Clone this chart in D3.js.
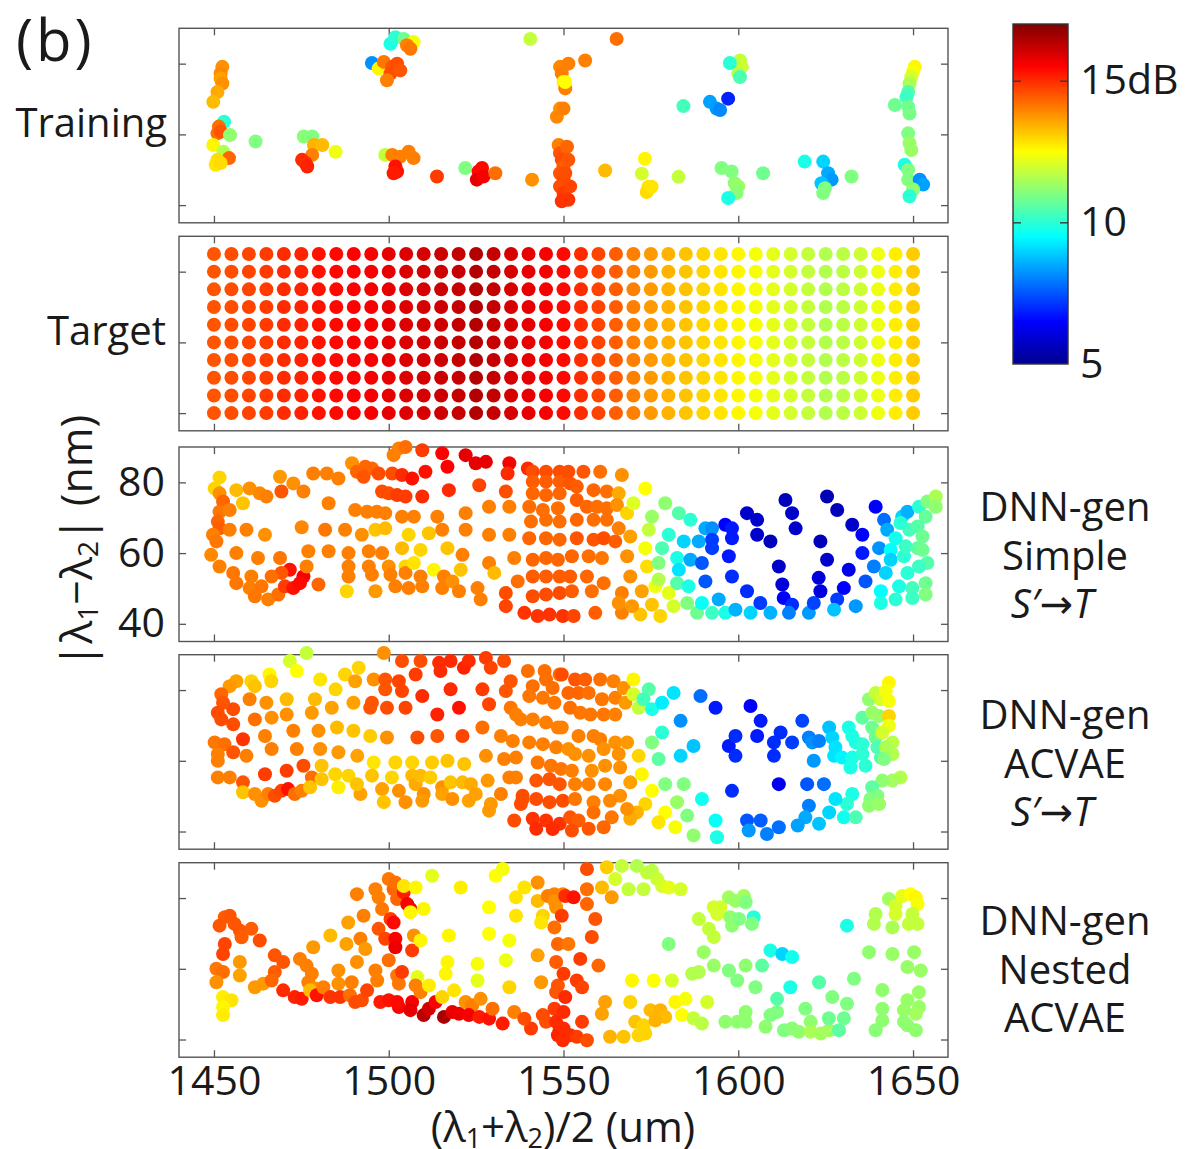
<!DOCTYPE html>
<html>
<head>
<meta charset="utf-8">
<script src="https://cdn.jsdelivr.net/npm/d3@7"></script>
<style>
  body { margin: 0; background: #fff; }
  svg text { fill: #1a1a1a; }
</style>
</head>
<body>
<div id="chart"></div>
<script>
// axis ticks
const xTicks = [1450, 1500, 1550, 1600, 1650];
const yTicks = [40, 60, 80];
const cbTicks = [5, 10, 15];
const cbTickText = ["5", "10", "15dB"];

// target grid: columns, rows and the value of each column
const targetCols = [1450, 1455, 1460, 1465, 1470, 1475, 1480, 1485, 1490, 1495, 1500, 1505, 1510, 1515, 1520, 1525, 1530, 1535, 1540, 1545, 1550,
    1555, 1560, 1565, 1570, 1575, 1580, 1585, 1590, 1595, 1600, 1605, 1610, 1615, 1620, 1625, 1630, 1635, 1640, 1645, 1650];
const targetRows = [40, 45, 50, 55, 60, 65, 70, 75, 80, 85];
const targetColVals = [14.5, 14.6, 14.7, 14.8, 15.0, 15.1, 15.3, 15.4, 15.5, 15.6, 15.8, 15.9, 16.0, 16.1, 16.2, 16.4, 16.2, 16.0, 15.8, 15.6, 15.4,
    15.0, 14.7, 14.4, 14.0, 13.7, 13.4, 13.2, 13.0, 12.8, 12.6, 12.4, 12.2, 12.0, 11.8, 11.6, 11.7, 11.9, 12.3, 12.7, 13.1];

// [ (l1+l2)/2 , |l1-l2| , dB ]
const trainingPts = [
    [1452.4,79.1,13.8],[1451.9,77.2,13.9],[1451.9,75.8,13.6],[1452.4,74.4,13.8],[1451,72,13.5],[1449.8,69.2,13.3],
    [1452.9,63.6,10.0],[1451.4,62.2,14.2],[1451,60.3,14.2],[1451.9,60.8,14.5],[1454.6,59.8,11.2],[1449.8,57,12.6],
    [1452.7,55.1,11.6],[1454.3,53.3,14.3],[1451,52.8,12.9],[1450.5,51.4,12.8],[1451.9,51.9,12.9],
    [1461.9,58,11.0],[1475.7,59.4,11.1],[1478.1,59.4,11.0],[1478.6,57,13.4],[1481,57,13.3],[1484.8,55.1,12.3],
    [1478.1,54.2,14.0],[1475.2,52.8,15.0],[1476.2,51.9,15.0],[1476.7,50.9,15.1],
    [1499,54.2,11.8],[1501,54.2,14.0],[1503.3,53.7,14.0],[1505.7,55.1,14.0],[1507.1,53.3,14.0],
    [1501.9,50.9,15.3],[1502.4,49.5,15.3],[1501.4,49,15.2],[1513.8,48.1,14.8],[1521.9,50.5,11.0],
    [1525.7,49.5,15.4],[1526.7,50.5,15.4],[1525.2,47.2,15.8],[1527.1,48.1,15.6],[1530.5,49,14.2],
    [1500.5,85.6,9.8],[1501.9,87.5,10.0],[1504.3,87,10.8],[1507.1,86.1,12.4],[1505.2,85.2,14.0],[1506.2,84.2,14.1],
    [1495.2,80.2,8.2],[1497.1,78.6,12.6],[1498.6,80.5,14.1],[1501,79.1,14.5],[1500.5,77.2,14.6],[1502.4,80,14.6],
    [1503.3,78.1,14.5],[1499.5,75.3,14.0],[1540.5,87,11.8],[1541,47.2,13.8],
    [1549,79.1,13.9],[1549.5,77.2,14.0],[1550,74.8,12.6],[1550.5,73,14.0],[1549,67.3,13.8],[1548.1,65,13.9],
    [1551.4,80,14.0],[1550.5,74.8,12.5],[1550,67.3,14.0],
    [1548.6,57,14.0],[1549,54.7,14.5],[1549.5,52.8,14.6],[1550,50.9,14.4],[1549,49,14.5],[1550,47.2,14.7],
    [1549,45.3,14.6],[1550,43.4,14.8],[1549.5,41.1,14.9],[1551,56.5,14.3],[1551.4,52.8,14.5],[1550.5,49,14.6],
    [1551.9,45.3,14.7],[1551.4,41.5,14.9],
    [1565.2,87,14.2],[1556.2,80.9,14.0],[1561.9,49.8,13.3],[1573.3,53.1,12.6],[1572.4,48.9,12.0],[1574.3,45.2,12.8],
    [1573.8,43.7,12.9],[1575.2,45.2,12.8],[1582.9,48,11.8],
    [1600.5,80.9,11.8],[1601,79.1,11.9],[1600,77.2,11.6],[1597.6,80.2,10.0],[1600.5,76.2,10.4],
    [1584.3,68,10.3],[1591.9,69.2,8.4],[1593.8,67.3,8.3],[1594.8,66.9,8.1],[1597.1,70.1,6.9],
    [1595.2,50.5,11.0],[1598.1,49.5,11.0],[1599,46.2,11.2],[1600,45.3,11.3],[1599.5,43.4,11.1],[1597.1,42,9.8],
    [1607.1,49,10.8],[1619,52.3,9.8],[1624.3,52.3,9.0],[1625.7,49,8.5],[1626.7,47.2,8.3],[1623.8,46.2,8.8],
    [1624.8,44.8,11.0],[1624.3,43.4,11.0],[1632.4,48.1,11.0],
    [1650.5,79.1,12.6],[1650,77.7,12.4],[1649.5,76.2,12.0],[1649,74.4,11.5],[1648.6,72,10.5],[1648.1,70.6,10.2],
    [1644.8,68.3,10.8],[1648.6,67.8,10.8],[1649,65.9,10.9],[1648.6,60.3,11.0],[1649,57.5,11.3],[1649.5,55.6,11.3],
    [1647.6,51.4,9.8],[1648.6,50,11.0],[1648.6,47.2,11.0],[1651.9,47.2,8.2],[1652.9,45.8,8.4],[1650,44.4,11.2],
    [1649,42.5,10.0]
];

const simplePts = [
    [1451.6,81.4,13.0],[1450.2,78.3,13.0],[1451.6,76.9,13.8],[1452.6,74.6,14.3],[1451.6,71.7,14.1],[1451.1,68.9,14.3],
    [1451.6,67,14.4],[1449.7,65.2,14.0],[1450.7,63.3,14.1],[1449.2,59.5,13.9],[1451.6,56.2,14.0],[1455.5,54.4,14.1],
    [1456.4,51.5,14.1],[1460.2,50.1,14.0],[1461.7,47.8,14.1],[1465.5,46.9,14.0],[1468.4,48.3,14.2],[1470.3,50.6,14.8],
    [1471.7,55.3,15.3],[1472.7,50.1,15.3],[1475.6,53.4,15.6],[1474.6,51.5,15.4],[1469.3,54.4,14.5],[1466.5,53.4,14.2],
    [1463.6,50.6,14.1],[1460.7,53.4,14.0],[1456.4,77.8,13.3],[1460.2,78.3,13.8],[1463.1,76.9,13.9],[1465,76,14.0],
    [1458.3,74.1,13.2],[1454.5,72.2,14.0],[1468.9,81.6,13.7],[1472.7,79.7,13.8],[1469.3,77.4,14.5],[1475.6,77.4,14.0],
    [1454.5,66.6,14.0],[1459.3,66.6,14.0],[1464.6,65.2,13.8],[1456.4,60,14.0],[1462.6,58.6,14.0],[1468.9,58.6,14.1],
    [1475.1,67.3,13.9],[1477,60.5,14.0],[1476.5,56.2,14.0],[1479.9,51.1,14.3],[1478.4,82.5,14.0],[1482.3,82.5,14.0],
    [1485.6,81.1,14.0],[1482.8,74.1,14.0],[1481.8,66.6,14.1],[1482.8,60.5,14.0],[1487.5,66.6,14.0],[1488.5,60,14.0],
    [1488.5,56.2,14.0],[1488.5,53.4,14.0],[1488,49.2,13.0],[1490.4,72.2,14.0],[1489.5,85.4,13.8],[1490.9,83,14.3],
    [1493.3,84.4,14.3],[1495.2,83.9,14.3],[1492.8,81.6,14.5],[1493.8,71.7,14.0],[1492.3,65.2,13.8],[1494.3,60.5,14.0],
    [1494.3,56.2,14.0],[1495.2,53.9,14.0],[1496.2,49.2,13.7],[1496.2,66.6,13.2],[1496.6,71.7,14.0],[1498.1,77.4,14.6],
    [1500,76.9,14.6],[1499,67,13.3],[1499,71.3,14.0],[1498.1,60,14.0],[1500,56.2,13.8],[1500.5,53.9,14.0],
    [1501.9,50.6,14.0],[1501,82.5,14.6],[1497.1,82.5,14.6],[1501.4,87.7,14.0],[1502.9,89.6,14.0],[1504.8,90,14.2],
    [1503.8,82.1,15.0],[1502.4,76.4,14.8],[1504.8,76,14.8],[1503.8,70.3,14.0],[1503.8,61.4,13.3],[1504.8,56.2,13.0],
    [1504.8,54.4,14.0],[1505.7,50.1,14.0],[1507.2,70.3,14.0],[1505.7,65.2,13.0],[1507.2,57.2,12.8],[1509.1,60.9,13.0],
    [1506.7,81.1,15.3],[1509.6,89.1,14.8],[1509.6,76,15.0],[1509.1,53.4,14.0],[1509.6,50.6,14.0],[1510.5,83,15.3],
    [1512.9,55.3,12.6],[1511.5,65.6,13.2],[1515.3,88.2,15.5],[1516.8,84.4,15.5],[1517.2,77.8,15.0],[1513.9,70.3,14.0],
    [1515.3,66.6,14.0],[1516.8,61.4,13.2],[1515.8,53.4,14.0],[1515.3,50.1,14.0],[1518.2,52,13.8],[1522,87.7,15.8],
    [1524.9,85.4,15.8],[1527.8,85.8,15.8],[1525.9,79.2,14.7],[1522,71.3,14.0],[1522,66.6,14.0],[1521.1,59.5,14.0],
    [1520.6,55.3,13.2],[1520.1,49.2,14.0],[1525.4,50.1,14.0],[1526.3,46.9,14.0],[1534.5,85.4,15.6],[1534,82.5,15.0],
    [1539.8,83.9,15.0],[1533.5,77.4,14.6],[1528.7,73.1,14.0],[1534.5,73.1,14.0],[1528.7,65.2,14.0],[1534.5,65.2,14.0],
    [1528.7,57.2,14.0],[1530.2,54.4,13.3],[1535.9,58.6,14.0],[1536.9,52,14.2],[1533.5,48.7,14.6],[1533.5,45,14.7],
    [1541.2,83,14.6],[1545,83,14.6],[1548.9,83,14.6],[1541.2,80.2,14.4],[1545,80.2,14.4],[1548.9,80.2,14.4],
    [1541.2,76.9,14.3],[1545,76.4,14.3],[1548.9,76.9,14.3],[1540.2,73.1,14.2],[1544.1,72.2,14.2],[1548.4,72.7,14.2],
    [1540.7,68.9,14.2],[1545,69.4,14.2],[1548.9,68.9,14.2],[1540.2,64.2,14.3],[1545,64.2,14.3],[1548.9,63.8,14.3],
    [1541.2,58.1,14.3],[1545,58.6,14.3],[1548.4,58.1,14.3],[1541.2,53.4,14.4],[1545,53.4,14.4],[1548.9,53.4,14.4],
    [1541.2,47.8,14.6],[1545,48.3,14.6],[1548.9,48.7,14.6],[1538.8,43.1,14.9],[1542.6,42.2,14.9],[1546,42.6,14.9],
    [1549.8,42.2,14.9],
    [1551.4,83,14.6],[1555.7,83,14.5],[1560.5,83,14.2],[1566.7,82.1,13.8],[1551.9,79.7,14.5],[1553.8,78.8,14.4],
    [1558.6,77.8,14.3],[1562.4,77.4,14.2],[1565.8,76.9,13.5],[1553.8,75,14.4],[1556.7,73.1,14.3],[1559.6,73.1,14.2],
    [1562.4,72.7,14.2],[1565.3,73.6,13.8],[1568.2,71.3,13.0],[1553.8,69.4,14.3],[1558.6,69.4,14.2],[1562.4,69.4,14.2],
    [1565.8,67,14.0],[1553.8,64.2,14.5],[1558.6,63.8,14.5],[1561.5,64.2,14.6],[1564.8,63.3,14.4],[1569.1,64.7,13.6],
    [1552.4,59.1,14.3],[1557.2,59.1,14.2],[1561,58.6,14.1],[1568.2,59.1,13.8],[1551.9,53.4,14.4],[1556.7,53.4,14.3],
    [1561.5,51.5,14.2],[1569.1,53.4,13.8],[1552.4,49.2,14.4],[1558.1,49.2,14.2],[1566.7,48.7,14.0],[1552.9,42.2,14.7],
    [1559.1,43.1,14.4],[1566.7,43.1,14.0],[1565.8,45.9,13.8],
    [1573.4,78.3,12.5],[1570,74.1,12.1],[1575.3,70.3,11.3],[1574.4,66.6,11.8],[1573.4,61.4,12.4],[1573.9,56.2,12.9],
    [1572.4,49.2,13.6],[1572,42.6,13.2],[1575.3,45.4,13.2],[1569.6,45,13.7],[1576.3,50.6,12.3],[1577.7,42.2,13.0],
    [1579.1,74.1,11.2],[1580.1,65.2,10.0],[1578.2,61.4,10.4],[1577.2,57.2,11.0],[1577.2,52.5,11.6],[1580.1,48.7,12.2],
    [1581.5,45,12.0],[1583,71.3,10.5],[1586.3,69.4,10.0],[1582.5,58.6,9.8],[1584.4,63.3,9.0],[1583,55.3,9.2],
    [1582.5,51.5,10.5],[1585.8,50.6,9.8],[1585.4,45.9,11.0],[1588.2,43.1,10.8],[1588.7,63.3,8.5],[1586.3,58.1,8.5],
    [1589.6,57.2,7.5],[1590.6,67,8.5],[1592.5,67,8.2],[1592.5,63.8,7.2],[1592.5,61.4,7.2],[1590.6,52,7.5],
    [1589.6,45.9,9.6],[1592.5,43.1,10.2],[1596.3,68,6.5],[1598.2,67,6.8],[1598.2,64.2,6.8],[1597.3,59.1,6.8],
    [1598.2,53.4,7.0],[1594.4,46.9,8.5],[1596.3,43.1,9.8],[1599.2,44,8.6],[1602.5,71.3,5.8],[1605.4,69.4,5.8],
    [1605.4,65.2,5.8],[1609.2,63.3,5.6],[1602.5,49.2,7.0],[1606.3,45.9,7.2],[1603.5,43.1,9.0],[1609.2,43.1,8.6],
    [1613.5,75,5.6],[1615.4,71.3,5.8],[1616.4,67,5.8],[1611.6,56.2,5.8],[1612.6,51.1,6.0],[1613,47.3,6.5],
    [1615.4,45.4,7.0],[1614.5,43.1,8.0],[1620.2,43.1,8.3],[1621.6,45.9,7.3],[1623.5,49.2,6.0],[1623,53,6.0],
    [1625.4,58.1,5.8],[1623.5,63.3,5.6],[1625.4,76,5.5],[1628.3,72.2,5.6],[1632.6,68,5.8],[1635.5,65.2,6.5],
    [1635.5,60,6.8],[1631.6,55.3,6.2],[1630.2,50.1,6.5],[1628.3,46.9,7.2],[1627.4,44,8.8],[1633.6,45,8.3],
    [1636.4,52,7.5],[1638.8,56.2,8.0],[1640.3,61.4,8.2],[1639.3,73.1,6.5],[1641.7,69.4,7.8],[1642.6,66.6,8.5],
    [1643.6,60.9,9.5],[1643.6,58.1,9.0],[1642.2,54.4,9.0],[1640.8,49.2,9.5],[1640.8,45.9,9.8],[1645,64.2,9.7],
    [1645,46.9,10.0],[1646,50.6,9.8],[1648.4,54.4,10.0],[1647.4,59.1,10.0],[1647.9,61.9,10.2],[1648.9,66.6,10.3],
    [1646.9,70.3,9.0],[1648.4,71.7,8.6],[1651.7,73.1,10.0],[1654.1,74.6,11.0],[1656.5,76,11.5],[1656.5,73.1,11.2],
    [1653.6,70.3,10.7],[1651.3,67.5,10.5],[1652.7,64.7,10.8],[1651.3,61.4,10.6],[1652.7,60.9,10.8],[1654.1,57.2,10.5],
    [1651.7,56.2,10.2],[1653.6,51.5,10.8],[1653.6,48.3,11.0],[1649.8,50.1,10.3],[1649.8,47.3,10.2],[1646.4,68.5,10.0]
];

const acvaePts = [
    [1471.7,88.2,12.0],[1476.5,90.5,11.8],[1473.7,85.4,12.5],[1465.9,84.4,12.6],[1466.4,82.5,13.0],[1460.7,82.5,13.0],
    [1461.7,81.1,13.2],[1456.4,82.5,13.6],[1454.5,81.1,13.7],[1452.1,78.8,14.3],[1452.6,76.4,14.5],[1451.1,73.6,14.6],
    [1452.1,71.7,14.6],[1455.5,74.6,14.6],[1455.5,70.3,14.6],[1450.2,65.2,14.1],[1453,64.7,14.2],[1451.1,61.9,14.0],
    [1451.1,60,14.0],[1455.5,62.4,14.5],[1458.3,66.1,14.9],[1451.1,55.3,14.0],[1454.5,55.3,14.0],[1458.3,53.9,14.5],
    [1458.3,51.1,13.2],[1461.7,50.6,13.8],[1463.6,48.7,13.8],[1465.5,50.6,14.0],[1467.4,50.1,14.6],[1469.3,51.5,14.7],
    [1471.2,52,15.3],[1473.1,50.6,14.2],[1475.1,51.5,14.0],[1464.6,56.2,14.8],[1470.8,57.2,14.8],[1475.6,58.6,14.6],
    [1478,55.3,14.2],[1477.5,52.5,13.2],[1480.8,54.8,13.2],[1460.2,77.4,14.0],[1465,76.4,13.8],[1470.8,77.4,13.3],
    [1461.7,71.7,14.2],[1466.5,72.2,13.8],[1470.8,73.1,13.8],[1464.6,67,14.0],[1472.7,68.5,14.0],[1466.5,63.3,14.0],
    [1473.7,63.3,14.0],[1459.3,61.4,14.0],[1478.9,77.4,13.3],[1478,73.6,13.7],[1480.4,83,12.8],[1484.8,80.2,13.0],
    [1483.7,75,13.6],[1479.9,68.5,13.8],[1480.4,63.3,13.8],[1480.8,58.6,13.2],[1485.2,69.4,13.3],[1485.6,62.4,13.7],
    [1484.7,56.2,13.0],[1488.5,55.8,13.0],[1485.6,52.5,12.7],[1487.5,84.4,13.0],[1491.4,86.3,13.0],[1490.4,82.5,13.6],
    [1489.9,76.4,13.6],[1489.9,68.5,13.2],[1491,61.4,13.6],[1491.9,50.6,13.6],[1490.9,53.4,13.2],[1495.7,83,13.8],
    [1495.2,76.4,14.5],[1494.7,75,14.5],[1494.7,67,13.1],[1495.7,59.5,12.8],[1495.2,55.8,13.2],[1498.1,52,13.6],
    [1498.6,48.3,13.2],[1498.6,90.5,13.8],[1499,83,14.5],[1499,80.2,14.5],[1499.5,75,14.6],[1499.5,66.6,13.8],
    [1500.9,55.3,13.0],[1501.9,59.5,13.0],[1502.9,82.5,14.7],[1503.8,79.7,14.7],[1504.8,75,14.7],[1503.8,88.2,14.6],
    [1502.9,51.5,13.8],[1504.8,48.3,13.8],[1506.7,59.5,13.0],[1506.7,55.8,13.3],[1507.7,53.4,13.5],[1509.1,55.8,13.3],
    [1507.7,84.4,14.8],[1509.1,88.2,14.6],[1509.6,78.3,15.0],[1508.2,66.6,14.6],[1510,50.6,13.8],[1509.6,48.7,13.7],
    [1513.9,73.1,15.1],[1512.4,59.5,13.1],[1511.9,55.3,13.1],[1514.4,87.7,15.0],[1514.8,85.4,15.0],[1513.9,67,14.5],
    [1515.3,52.5,13.8],[1515.3,50.6,13.6],[1517.7,88.2,15.0],[1517.7,80.2,15.0],[1516.8,60,13.2],[1517.7,53.9,13.2],
    [1518.2,49.2,13.8],[1521.5,86.3,15.1],[1522.9,88.2,15.0],[1520.1,75,15.3],[1521.1,67,14.7],[1521.6,59.1,13.2],
    [1521.1,53.9,13.3],[1523.5,53.4,13.5],[1524.9,50.6,13.6],[1522.9,48.7,13.6],[1527.8,89.1,14.8],[1529.2,86.3,14.7],
    [1526.8,80.2,14.8],[1528.7,76,14.7],[1526.8,69.4,14.2],[1527.8,61.4,13.8],[1528.3,54.4,13.7],[1529.2,47.8,13.7],
    [1528.7,45.9,13.7],[1533,88.2,14.6],[1534.9,82.5,14.5],[1533.5,79.7,14.5],[1532.1,67,14.0],[1533,60.5,14.0],
    [1532.1,50.6,14.0],[1534.9,75,14.1],[1536.4,73.1,14.0],[1537.8,71.7,14.0],[1535.5,65.6,14.0],[1536.4,60.9,14.0],
    [1534.5,55.3,14.0],[1536.4,55.3,14.0],[1538.3,50.1,14.6],[1537.8,47.8,14.6],[1535.9,43.1,14.6],
    [1539.8,85.4,14.2],[1544.6,85.4,14.2],[1548.9,84.4,14.2],[1541.2,81.1,14.2],[1545,83,14.2],[1546.9,80.6,14.2],
    [1540.2,78.3,14.1],[1544.1,77.8,14.1],[1547.4,76.4,14.1],[1541.2,71.7,14.0],[1545,70.8,14.0],[1548.4,69.4,14.0],
    [1540.2,65.2,14.0],[1544.1,64.7,14.0],[1547.9,63.8,14.0],[1542.6,59.5,14.1],[1546.4,58.6,14.1],[1549.3,57.7,14.1],
    [1542.2,54.4,14.5],[1546,54.8,14.5],[1548.9,53.4,14.5],[1538.3,49.2,14.6],[1542.2,49.2,14.6],[1546,48.3,14.6],
    [1549.8,48.7,14.6],[1541.2,43.6,14.9],[1545,43.1,14.9],[1548.9,42.2,14.9],[1542.2,40.8,15.0],[1546.9,40.7,15.0],
    [1549.5,84.4,14.6],[1553.3,83,14.5],[1556.2,83,14.4],[1560.5,83,14.2],[1564.3,82.5,14.0],[1551.4,79.2,14.3],
    [1554.3,79.2,14.3],[1557.2,79.2,14.2],[1561,77.4,14.1],[1564.8,77.8,14.0],[1567.2,80.6,13.8],[1570,83,12.6],
    [1551.9,75,14.2],[1554.8,73.6,14.1],[1557.7,73.1,14.1],[1561.5,73.1,14.1],[1564.8,73.1,14.0],[1567.7,76.4,13.7],
    [1570,78.8,12.0],[1571.5,75,11.8],[1574.4,80.2,10.5],[1572.9,77.4,10.3],[1575.3,74.6,9.8],[1578.2,76.4,9.3],
    [1581.5,79.2,9.2],[1549.5,69.4,14.0],[1554.3,67,14.0],[1558.6,67,14.0],[1560.5,66.1,14.0],[1564.8,65.2,13.8],
    [1568.2,65.2,13.7],[1551.4,63.3,13.8],[1553.3,61.9,13.8],[1557.2,61.4,13.8],[1561.5,63.3,13.8],[1565.8,61.9,13.8],
    [1571.5,61.4,13.0],[1575.3,65.2,11.0],[1578.2,68,10.0],[1577.2,60.5,10.6],[1583.5,71.3,8.2],[1583.5,61.4,9.0],
    [1587.2,64.2,8.8],[1589.2,78.3,7.8],[1593.5,75,6.8],[1597.3,64.2,6.8],[1599.2,67,7.0],[1599.2,61.4,7.0],
    [1603.5,75.5,6.5],[1606.4,71.3,6.8],[1605.4,67,6.8],[1610.2,65.2,7.0],[1612.1,68,7.0],[1610.2,61.4,7.0],
    [1615.4,65.2,7.2],[1618.3,71.3,7.3],[1620.2,66.6,8.0],[1621.2,65.2,8.2],[1623.1,65.6,8.0],[1621.6,60,8.3],
    [1626,69.4,8.8],[1626.9,66.6,9.0],[1627.8,63.8,9.2],[1627.4,61.4,9.2],[1629.7,60.9,9.4],[1631.6,69.4,9.8],
    [1632.6,67,9.8],[1633.6,65.2,9.8],[1632.6,60.9,9.8],[1632.1,58.1,9.8],[1635.5,64.7,10.0],[1635.5,61.9,10.0],
    [1636.4,58.6,10.0],[1635.5,72.2,10.6],[1637.4,77.4,11.2],[1638.3,69.4,10.8],[1639.3,66.6,10.8],[1639.8,63.8,10.4],
    [1640.8,60.9,10.4],[1638.3,73.6,11.3],[1640.3,72.7,11.3],[1639.3,79.2,11.8],[1640.8,77.4,12.0],[1643.1,82.1,12.6],
    [1642.2,79.7,12.4],[1643.1,76.9,12.4],[1643.1,72.7,13.0],[1643.1,69.9,12.3],[1641.2,68,12.0],[1644.1,65.2,11.7],
    [1644.1,61.9,11.6],[1642.2,63.8,11.5],[1641.7,60.5,11.0],[1646.4,55.3,11.6],[1644.1,54.4,11.4],[1641.2,54.4,11.2],
    [1638.3,52.5,10.6],[1637.8,49.2,11.0],[1639.8,50.1,11.0],[1637.4,47.3,11.2],[1640.3,47.8,11.3],[1632.6,50.6,9.8],
    [1631.1,47.8,10.0],[1630.2,44,9.7],[1633.6,44,10.4],[1627.8,49.2,9.2],[1626,45.4,9.0],[1623.1,42.2,8.8],
    [1620.2,47.3,8.0],[1619.7,53.4,7.5],[1624.5,53.4,7.8],[1619.2,44,8.5],[1617,41.7,8.4],[1611.6,53.4,6.3],
    [1611.6,41.2,7.8],[1606.4,43.1,7.6],[1602.5,43.1,7.5],[1603,40.3,8.3],[1608.2,39.3,8.0],[1598.2,51.5,7.0],
    [1593.5,43.1,9.6],[1593.9,38.4,9.8],[1589.6,49.2,9.7],[1587.2,38.9,11.2],[1585.4,44.5,11.0],[1582.5,48.3,11.3],
    [1584.4,53.4,11.0],[1579.1,53.4,11.0],[1582,41.2,12.4],[1579.1,45.4,12.5],[1577.2,42.6,12.8],[1575.3,51.5,12.5],
    [1572.4,56.2,12.6],[1573.4,47.8,13.0],[1571,45.4,13.4],[1569.1,43.6,13.5],[1568.2,46.4,13.8],[1566.2,50.1,13.8],
    [1569.1,53.9,13.6],[1566.2,58.1,13.8],[1561.9,58.6,13.8],[1558.1,57.2,13.8],[1552.4,57.2,14.0],[1553.3,53.4,14.0],
    [1557.2,53.4,14.0],[1561.9,53.4,13.9],[1553.3,49.2,14.1],[1558.6,48.3,14.0],[1563.3,48.7,13.9],[1551.9,44,14.5],
    [1554.3,43.1,14.4],[1558.6,45.4,14.2],[1563.8,44,14.1],[1552.4,40.3,14.6],[1557.2,40.8,14.5],[1561.5,41.2,14.3]
];

const nestedPts = [
    [1453.1,74.6,14.4],[1454.5,75,14.5],[1451.6,72.2,14.5],[1455.9,72.7,14.5],[1457.4,70.8,14.5],[1457.9,68.9,14.4],
    [1460.7,71.3,14.4],[1463.1,68,14.6],[1453.1,67,14.7],[1452.6,64.2,14.7],[1450.7,60,14.1],[1452.6,59.1,14.2],
    [1450.7,56.2,13.8],[1452.6,52,12.7],[1455,51.1,12.8],[1452.6,49.2,12.6],[1452.6,46.9,12.7],[1457.4,61.9,13.7],
    [1457.4,58.1,13.6],[1461.7,54.8,13.7],[1464.1,55.8,13.7],[1467.4,63.8,14.5],[1469.8,61.9,14.5],[1467.4,59.1,14.4],
    [1466.5,56.7,14.3],[1469.8,53.9,15.0],[1473.1,52,15.1],[1475.1,51.5,15.2],[1474.6,62.8,14.0],[1476.5,60.9,14.0],
    [1478,58.6,14.0],[1477,56.2,14.0],[1478.9,54.4,13.8],[1478.4,66.1,13.7],[1477.5,53.9,13.3],[1479.4,52.5,15.3],
    [1481.3,54.8,14.0],[1483.3,69.4,13.3],[1485.6,59.5,13.8],[1485.6,55.8,13.8],[1483.3,52,14.9],[1486.1,52,14.9],
    [1487.9,67,13.6],[1488.4,73.1,13.6],[1489.4,56.2,14.0],[1488.9,52.5,14.2],[1490.9,81.1,14.0],[1492.8,75,14.0],
    [1491.9,68.5,14.0],[1490.9,61.9,13.8],[1490.4,50.6,14.6],[1492.3,51.1,14.6],[1493.3,65.6,13.7],[1493.8,53.9,14.7],
    [1496.2,82.5,14.0],[1497.1,80.2,14.0],[1498.1,76.9,14.1],[1496.2,59.5,14.0],[1496.7,56.7,14.0],[1497.1,71.3,14.5],
    [1499,68.5,14.7],[1497.6,50.6,15.2],[1500,51.1,15.3],[1500,85.4,14.1],[1501.4,82.5,14.3],[1502.4,79.7,14.3],
    [1501.9,84.4,14.2],[1500.5,74.1,14.8],[1501.4,73.1,15.4],[1501.9,68.5,15.5],[1501.9,66.1,15.7],[1500,62.4,14.2],
    [1502.4,58.1,14.1],[1502.9,55.8,14.1],[1502.9,49.2,15.5],[1502.4,50.6,15.4],[1504.3,81.6,15.2],[1505.3,78.3,15.6],
    [1506.2,76.9,15.6],[1504.3,83.4,12.8],[1506.2,76,12.6],[1506.7,65.2,14.8],[1503.8,59.1,14.8],[1506.7,50.6,15.6],
    [1506.2,48.3,15.8],[1507.7,83,12.6],[1507.2,69.4,13.8],[1509.1,68,12.6],[1508.2,57.7,12.2],[1507.7,55.3,14.0],
    [1509.1,53.4,14.0],[1511.5,55.3,12.7],[1510,46.9,16.3],[1511.5,48.7,16.0],[1510,76.9,12.6],[1512.4,86.3,12.2],
    [1513.4,50.6,15.5],[1515.8,46.4,16.5],[1515.3,52,13.0],[1516.8,61.9,12.6],[1516.3,58.6,12.6],[1517.2,69.4,12.6],
    [1518.7,53.9,12.8],[1518.2,47.8,15.8],[1520.1,47.3,15.7],[1520.6,83,12.7],[1522,50.6,13.8],[1523.9,49.7,14.0],
    [1522.9,46.9,15.6],[1525.4,61.4,12.4],[1525.4,56.7,12.2],[1526.3,51.5,13.8],[1525.9,46.4,15.2],[1528.7,77.4,12.5],
    [1528.7,69.9,12.5],[1528.7,45.9,15.3],[1529.7,48.7,14.2],[1530.6,86.3,12.5],[1532.6,88.2,12.4],[1533.5,62.4,12.3],
    [1534.5,68,12.4],[1534.5,54.8,13.0],[1532.6,44.5,15.2],[1535.9,47.8,14.0],[1536.4,80.2,12.8],[1538.8,83,12.8],
    [1536.4,75,12.8],[1540.7,43.1,14.8],[1538.8,45.9,14.6],[1542.6,84.4,13.8],[1542.6,79.2,13.3],[1544.1,75,13.0],
    [1543.6,73.1,12.8],[1542.6,63.8,13.6],[1543.6,56.2,13.7],[1544.1,46.9,14.6],[1545,45,14.6],[1545.5,80.6,14.0],
    [1547.4,81.1,14.0],[1549.8,81.1,14.0],[1547.4,79.2,13.8],[1547.9,77.4,13.8],[1547.4,71.7,14.2],[1548.4,67,14.3],
    [1547.9,61.9,14.4],[1548.4,55.3,14.5],[1547.9,53.4,14.5],[1547.4,48.7,14.8],[1547.9,45,15.0],[1548.9,42.6,15.0],
    [1548.4,41.2,15.1],[1549.8,39.8,15.0],
    [1550.5,80.6,15.0],[1552.9,80.2,15.3],[1549.5,75,14.8],[1556.7,88.2,14.6],[1556.7,82.5,14.2],[1556.7,78.3,14.3],
    [1559.1,74.1,14.5],[1558.1,69,14.6],[1551.4,67,14.1],[1554.8,62.8,14.8],[1560,60.9,14.3],[1550,58.6,14.8],
    [1553.8,56.7,14.8],[1555.3,54.8,14.7],[1550.5,52,15.0],[1550,47.8,15.0],[1555.3,45,14.8],[1550,43.1,15.0],
    [1551.9,41.2,15.0],[1553.8,40.8,14.8],[1556.7,39.8,14.6],[1562.4,88.7,13.1],[1561,83,13.3],[1563.8,80.2,13.7],
    [1566.7,89.1,11.8],[1571,89.1,11.6],[1564.8,85.4,12.0],[1568.6,82.5,11.8],[1572.9,82.5,11.8],[1573.9,87.2,11.8],
    [1575.3,87.7,11.7],[1576.8,85.4,11.9],[1578.2,83.4,12.0],[1580.1,83,12.2],[1583.5,82.5,12.0],[1561.9,50.6,13.6],
    [1561,47.3,13.6],[1563.3,40.8,13.4],[1567.2,40.8,13.2],[1569.1,50.6,13.0],[1569.6,56.7,12.6],[1575.8,56.7,12.5],
    [1581,56.7,12.0],[1570.5,45,13.2],[1572.9,44,13.0],[1571.5,41.2,13.0],[1574.9,48.3,13.3],[1577.7,48.3,13.4],
    [1579.1,46.4,13.3],[1576.3,45.4,13.4],[1573.4,41.7,13.0],[1582,50.6,12.6],[1584.9,51.5,12.4],[1583.9,46.9,12.5],
    [1587.2,46,11.8],[1589.6,44.5,11.7],[1591.1,50.6,12.0],[1580.1,67,11.0],[1586.8,58.6,11.6],[1588.7,59.1,11.6],
    [1588.7,74.1,11.8],[1591.6,71.3,11.8],[1593,69,11.8],[1590.1,64.7,11.3],[1593,60.9,11.3],[1593,77.4,12.0],
    [1594,75.5,12.0],[1594.9,77.4,12.0],[1597.3,80.2,11.4],[1599.2,79.2,11.3],[1601.6,80.6,11.4],[1602.1,78.8,11.0],
    [1597.7,74.6,11.2],[1598.2,72.2,11.2],[1600.2,74.1,11.0],[1604.4,74.6,10.0],[1603.9,72.7,11.0],[1597.3,59.5,11.0],
    [1599.7,56.7,11.0],[1602.1,60.9,11.2],[1604.9,54.8,11.0],[1606.8,60.9,10.6],[1609.2,65.2,9.8],[1612.6,64.2,9.0],
    [1615.4,63.3,9.7],[1614.9,54.8,9.8],[1611.1,51.5,10.5],[1596.3,45,11.2],[1599.7,45,11.2],[1602.1,47.8,11.2],
    [1602.1,45,11.2],[1607.8,43.6,11.2],[1609.2,46.9,11.0],[1611.1,47.8,11.0],[1613.1,42.6,11.0],[1615.4,43.1,11.1],
    [1617.3,42.2,11.2],[1619.2,48.7,11.0],[1620.7,45,11.2],[1620.7,42.2,11.5],[1623.6,41.7,11.4],[1625.9,42.6,11.4],
    [1623.1,56.2,10.5],[1626.9,52,11.0],[1625.9,46,10.8],[1628.8,42.6,10.6],[1630.2,46,10.8],[1631.1,50.1,11.0],
    [1631.1,72.2,9.8],[1633.1,57.2,11.0],[1639.3,42.6,11.1],[1641.2,54,11.2],[1641.2,48.7,11.2],[1641.2,45.4,11.2],
    [1637.4,64.7,11.2],[1639.3,75.5,11.6],[1638.8,72.7,11.6],[1643.1,79.7,11.4],[1645,77.8,12.0],[1645,75.5,12.0],
    [1644.1,71.7,11.5],[1644.1,64.2,11.3],[1646.9,80.6,12.2],[1649.3,81.1,12.5],[1650.8,80.2,12.6],[1651.3,78.3,12.4],
    [1649.8,75.5,11.8],[1648.8,72.7,11.8],[1651.3,72.7,11.8],[1650.3,64.7,11.3],[1648.4,60.5,11.3],[1652.2,59.5,11.3],
    [1651.7,53.4,11.3],[1648.4,51.1,11.3],[1651.7,49.2,11.3],[1650.8,47.3,11.4],[1647.4,48.3,11.3],[1648.4,44,11.2],
    [1650.8,42.6,11.2],[1647.4,45,11.2]
];

class PanelChart {

    constructor(svg, x, color)
    {
        this.svg = svg;
        this.x = x;
        this.color = color;
        this.left = 179;
        this.right = 948;
        this.height = 194.5;
        this.frame = "#555";
        this.radius = 7;
    }

    styleAxis(g)
    {
        g.attr("font-family", null).attr("font-size", 41);
        g.select(".domain").remove();
        g.selectAll(".tick line").attr("stroke", this.frame).attr("stroke-width", 1.3);
        g.selectAll(".tick text").style("fill", "#1a1a1a");
    }

    drawPanel(top, pts, showX, showY)
    {
        let that = this;
        let y = d3.scaleLinear().domain([35, 90]).range([top + this.height, top]);
        let g = this.svg.append("g");

        g.append("g").attr("transform", `translate(0,${top + this.height})`)
            .call(d3.axisBottom(this.x).tickValues(xTicks).tickSize(-7).tickPadding(9)
                .tickFormat(showX ? d3.format("d") : ""))
            .call(a => that.styleAxis(a));
        g.append("g").attr("transform", `translate(0,${top})`)
            .call(d3.axisTop(this.x).tickValues(xTicks).tickSize(-7).tickFormat(""))
            .call(a => that.styleAxis(a));
        g.append("g").attr("transform", `translate(${this.left},0)`)
            .call(d3.axisLeft(y).tickValues(yTicks).tickSize(-7).tickPadding(14)
                .tickFormat(showY ? d3.format("d") : ""))
            .call(a => that.styleAxis(a));
        g.append("g").attr("transform", `translate(${this.right},0)`)
            .call(d3.axisRight(y).tickValues(yTicks).tickSize(-7).tickFormat(""))
            .call(a => that.styleAxis(a));

        g.append("rect")
            .attr("x", this.left).attr("y", top)
            .attr("width", this.right - this.left).attr("height", this.height)
            .attr("fill", "none").attr("stroke", this.frame).attr("stroke-width", 1.4);

        g.append("g").selectAll("circle")
            .data(pts)
            .join("circle")
            .attr("cx", d => that.x(d[0]))
            .attr("cy", d => y(d[1]))
            .attr("r", this.radius)
            .attr("fill", d => that.color(d[2]));
    }

    drawColorbar()
    {
        let cb = d3.scaleLinear().domain([5, 17]).range([364, 24]);
        let x0 = 1013, x1 = 1068;
        let grad = this.svg.append("defs").append("linearGradient")
            .attr("id", "jetGrad").attr("x1", 0).attr("y1", 1).attr("x2", 0).attr("y2", 0);
        grad.selectAll("stop")
            .data(this.color.domain())
            .join("stop")
            .attr("offset", d => (d - 5) / 12)
            .attr("stop-color", d => this.color(d));

        this.svg.append("rect")
            .attr("x", x0).attr("y", cb(17)).attr("width", x1 - x0).attr("height", cb(5) - cb(17))
            .attr("fill", "url(#jetGrad)").attr("stroke", "#333").attr("stroke-width", 1.4);

        let that = this;
        this.svg.append("g").attr("transform", `translate(${x0},0)`)
            .call(d3.axisLeft(cb).tickValues([10, 15]).tickSize(-8).tickFormat(""))
            .call(a => that.styleAxis(a))
            .selectAll(".tick line").attr("stroke", "#333");
        this.svg.append("g").attr("transform", `translate(${x1},0)`)
            .call(d3.axisRight(cb).tickValues(cbTicks).tickSize(-8).tickPadding(12)
                .tickFormat((d, i) => cbTickText[i]))
            .call(a => that.styleAxis(a))
            .call(a => a.selectAll(".tick line").attr("stroke", d => d === 5 ? "none" : "#333"));
    }
}

const svg = d3.select("#chart").append("svg")
    .attr("width", 1188).attr("height", 1149)
    .style("font-family", "'Open Sans', 'DejaVu Sans', sans-serif");

const x = d3.scaleLinear().domain([1440, 1660]).range([179, 948]);
const jet = d3.scaleLinear()
    .domain([5, 6.5, 9.5, 12.5, 15.5, 17])
    .range(["#00008f", "#0000ff", "#00ffff", "#ffff00", "#ff0000", "#800000"])
    .clamp(true);

const targetPts = targetCols.flatMap((c, i) => targetRows.map(r => [c, r, targetColVals[i]]));

const chart = new PanelChart(svg, x, jet);
const tops = [28.3, 236.3, 447, 654.7, 862.7];
chart.drawPanel(tops[0], trainingPts, false, false);
chart.drawPanel(tops[1], targetPts, false, false);
chart.drawPanel(tops[2], simplePts, false, true);
chart.drawPanel(tops[3], acvaePts, false, false);
chart.drawPanel(tops[4], nestedPts, true, false);
chart.drawColorbar();

// labels
svg.append("text").attr("x", 16).attr("y", 61).attr("font-size", 58).attr("letter-spacing", 3).text("(b)");
svg.append("text").attr("x", 167).attr("y", 137).attr("font-size", 40).attr("text-anchor", "end").text("Training");
svg.append("text").attr("x", 166).attr("y", 345).attr("font-size", 40).attr("text-anchor", "end").text("Target");

function rightLabel(lines, y0)
{
    lines.forEach((ln, i) => {
        let t = svg.append("text").attr("x", 1065).attr("y", y0 + i * 48.5)
            .attr("font-size", 40).attr("text-anchor", "middle");
        if (ln === "arrow") {
            t.attr("x", 1052);
            t.append("tspan").attr("font-style", "italic").text("S\u2032");
            t.append("tspan").text("\u2192");
            t.append("tspan").attr("font-style", "italic").text("T");
        } else {
            t.text(ln);
        }
    });
}
rightLabel(["DNN-gen", "Simple", "arrow"], 521);
rightLabel(["DNN-gen", "ACVAE", "arrow"], 729);
rightLabel(["DNN-gen", "Nested", "ACVAE"], 935);

let yl = svg.append("text")
    .attr("transform", "translate(92,541) rotate(-90)")
    .attr("font-size", 43).attr("text-anchor", "middle");
yl.append("tspan").text("|\u03bb");
yl.append("tspan").attr("font-size", 28).attr("baseline-shift", "-22%").text("1");
yl.append("tspan").text("\u2212\u03bb");
yl.append("tspan").attr("font-size", 28).attr("baseline-shift", "-22%").text("2");
yl.append("tspan").text("| (nm)");

let xl = svg.append("text")
    .attr("x", 563).attr("y", 1142)
    .attr("font-size", 42).attr("text-anchor", "middle");
xl.append("tspan").text("(\u03bb");
xl.append("tspan").attr("font-size", 27).attr("baseline-shift", "-22%").text("1");
xl.append("tspan").text("+\u03bb");
xl.append("tspan").attr("font-size", 27).attr("baseline-shift", "-22%").text("2");
xl.append("tspan").text(")/2 (um)");
</script>
</body>
</html>
